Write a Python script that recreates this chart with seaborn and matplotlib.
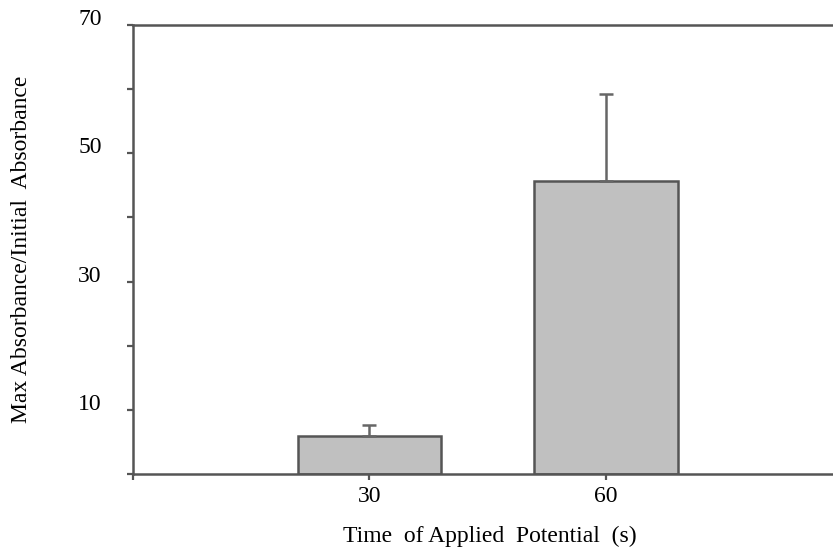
import seaborn as sns
import pandas as pd
import matplotlib.pyplot as plt
from matplotlib.transforms import ScaledTranslation

times = ['30', '60']
ratio = [5.9, 45.7]
err_up = [1.7, 13.5]

ytick_vals = [0, 10, 20, 30, 40, 50, 60, 70]
ytick_labels = ['', '10', '', '30', '', '50', '', '70']

df = pd.DataFrame({'time': times, 'ratio': ratio})

sns.set_style('white')
plt.rcParams['font.family'] = ['Liberation Serif', 'DejaVu Serif']
plt.rcParams['text.color'] = 'black'
plt.rcParams['axes.labelcolor'] = 'black'

fig = plt.figure(figsize=(8.33, 5.52), dpi=100)
ax = fig.add_axes([133 / 833, 1 - 474 / 552, 1 - 133 / 833, 449 / 552])

edge = '#555555'
sns.barplot(data=df, x='time', y='ratio', color='#c0c0c0', saturation=1,
            width=0.606, edgecolor=edge, linewidth=1.8, errorbar=None, ax=ax)
ax.errorbar(x=range(len(times)), y=ratio, yerr=[[0] * len(times), err_up],
            fmt='none', ecolor='#666666', elinewidth=1.8, capsize=5, capthick=1.8)

ax.set_xlim(-1, 1.96)
ax.set_ylim(0, 70)
ax.set_yticks(ytick_vals)
ax.set_yticklabels(ytick_labels)
ax.set_xticks([-1, 0, 1])
ax.set_xticklabels(['', '30', '60'])

for s in ['left', 'bottom', 'top']:
    ax.spines[s].set_color(edge)
    ax.spines[s].set_linewidth(1.8)
ax.spines['right'].set_visible(False)

ax.tick_params(axis='y', direction='out', length=4.5, width=1.6, color=edge,
               pad=18, labelsize=17, left=True, labelcolor='black')
ax.tick_params(axis='x', direction='out', length=4.5, width=1.6, color=edge,
               pad=4, labelsize=17, bottom=True, labelcolor='black')

# y labels sit a little above their ticks in the original
shift = ScaledTranslation(0, 8 / 100, fig.dpi_scale_trans)
for lab in ax.get_yticklabels():
    lab.set_transform(lab.get_transform() + shift)

ax.set_xlabel('Time  of Applied  Potential  (s)', fontsize=17, color='black')
ax.set_ylabel('Max Absorbance/Initial  Absorbance', fontsize=17, color='black')
ax.xaxis.set_label_coords(357 / 700, -52 / 449)
ax.yaxis.set_label_coords(-101 / 700, 0.5)

fig.savefig('out.png', dpi=100)
